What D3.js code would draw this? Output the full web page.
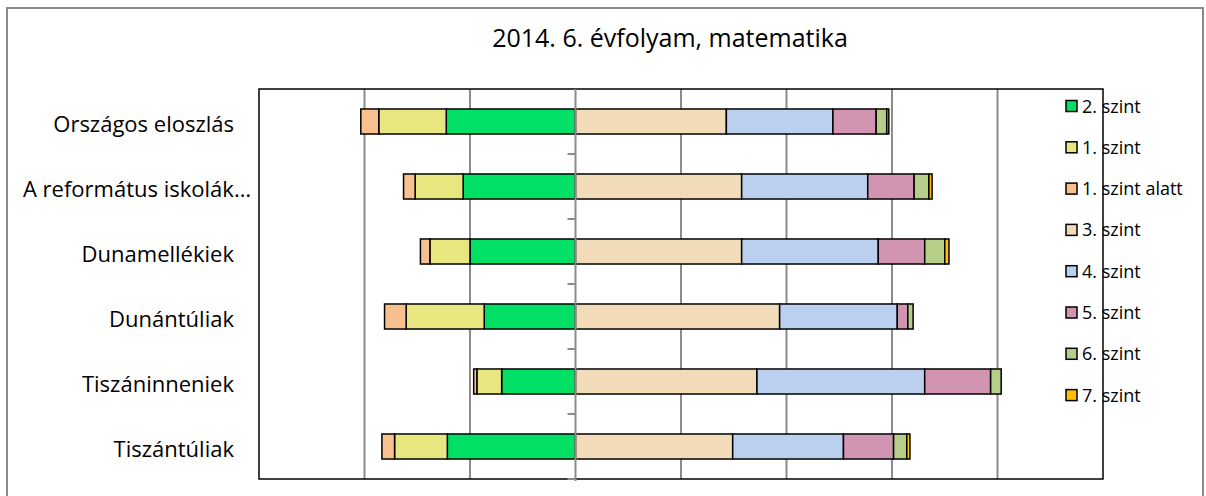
<!DOCTYPE html>
<html>
<head>
<meta charset="utf-8">
<script src="https://cdn.jsdelivr.net/npm/d3@7"></script>
<style>
  html, body { margin: 0; padding: 0; background: #fff; }
  svg { display: block; font-family: "Open Sans", "Noto Sans", sans-serif; }
</style>
</head>
<body>
<svg id="chart" width="1206" height="496"></svg>
<script>
// ---- data ----
const title = "2014. 6. évfolyam, matematika";
const categories = ["Országos eloszlás", "A református iskolák…", "Dunamellékiek", "Dunántúliak", "Tiszáninneniek", "Tiszántúliak"];
const seriesNames = ["2. szint", "1. szint", "1. szint alatt", "3. szint", "4. szint", "5. szint", "6. szint", "7. szint"];
const seriesColors = ["#00E064", "#E8E67E", "#F9C08F", "#F2DBB8", "#BAD0EE", "#D195B2", "#B5CE88", "#FFC000"];
// percentages per category
const level2 = [24.5, 21.3, 20.0, 17.3, 14.0, 24.3];
const level1 = [12.8, 9.1, 7.6, 14.8, 4.7, 10.0];
const below1 = [3.4, 2.2, 1.8, 4.1, 0.6, 2.4];
const level3 = [28.6, 31.5, 31.5, 38.7, 34.4, 29.8];
const level4 = [20.2, 23.9, 25.9, 22.3, 31.8, 21.0];
const level5 = [8.2, 8.8, 8.8, 2.0, 12.5, 9.5];
const level6 = [2.0, 2.8, 3.8, 1.0, 2.0, 2.5];
const level7 = [0.4, 0.6, 0.8, 0.0, 0.0, 0.6];
const gridTicks = [-60, -40, -20, 0, 20, 40, 60, 80, 100];

// series in legend order; left side stacks outward from 0
const seriesValues = [level2, level1, below1, level3, level4, level5, level6, level7];
const seriesSide = [-1, -1, -1, 1, 1, 1, 1, 1];

const svg = d3.select("#chart");
const plot = { left: 259, right: 1103, top: 89, bottom: 479 };

// outer frame
svg.append("rect").attr("x", 7).attr("y", 8).attr("width", 1196).attr("height", 520)
  .attr("fill", "none").attr("stroke", "#8a8a8a").attr("stroke-width", 2);

const x = d3.scaleLinear().domain([-60, 100]).range([plot.left, plot.right]);
const y = d3.scaleBand().domain(categories).range([plot.top, plot.bottom]).paddingInner(0.615).paddingOuter(0.3075);
const yb = d3.scaleBand().domain(categories).range([plot.top, plot.bottom]);

// title
svg.append("text").attr("x", 670).attr("y", 47).attr("text-anchor", "middle")
  .attr("font-size", 25).attr("fill", "#000").text(title);

// gridlines
svg.append("g").selectAll("line").data(gridTicks.filter(t => t !== 0 && t !== -60 && t !== 100)).join("line")
  .attr("x1", d => x(d)).attr("x2", d => x(d)).attr("y1", plot.top).attr("y2", plot.bottom)
  .attr("stroke", "#8c8c8c").attr("stroke-width", 2);

// stacked bars
const segs = [];
categories.forEach((c, i) => {
  let neg = 0, pos = 0;
  seriesValues.forEach((vals, s) => {
    const v = vals[i];
    if (!v) return;
    if (seriesSide[s] < 0) { segs.push({ c, s, x0: neg - v, x1: neg }); neg -= v; }
    else { segs.push({ c, s, x0: pos, x1: pos + v }); pos += v; }
  });
});
svg.append("g").selectAll("rect").data(segs).join("rect")
  .attr("x", d => x(d.x0)).attr("width", d => x(d.x1) - x(d.x0))
  .attr("y", d => y(d.c)).attr("height", y.bandwidth())
  .attr("fill", d => seriesColors[d.s]).attr("stroke", "#000").attr("stroke-width", 1.5);

// plot border
svg.append("rect").attr("x", plot.left).attr("y", plot.top)
  .attr("width", plot.right - plot.left).attr("height", plot.bottom - plot.top)
  .attr("fill", "none").attr("stroke", "#000").attr("stroke-width", 1.5);

// category axis at 0
const boundaries = categories.map(c => yb(c)).concat([plot.bottom]);
svg.append("line").attr("x1", x(0)).attr("x2", x(0)).attr("y1", plot.top).attr("y2", plot.bottom + 2)
  .attr("stroke", "#8c8c8c").attr("stroke-width", 2);
svg.append("g").selectAll("line").data(boundaries.slice(1)).join("line")
  .attr("x1", x(0) - 8).attr("x2", x(0)).attr("y1", d => d).attr("y2", d => d)
  .attr("stroke", "#8c8c8c").attr("stroke-width", 2);

// category labels
svg.append("g").selectAll("text").data(categories).join("text")
  .attr("y", d => yb(d) + yb.bandwidth() / 2 + 10)
  .attr("x", d => d.endsWith("…") ? 251 : 234)
  .attr("text-anchor", "end")
  .attr("font-size", 22).attr("fill", "#000").text(d => d);

// legend
const lg = svg.append("g").selectAll("g").data(seriesNames).join("g")
  .attr("transform", (d, i) => `translate(1066, ${106 + i * 41.3})`);
lg.append("rect").attr("x", 0).attr("y", -5.5).attr("width", 11).attr("height", 11)
  .attr("fill", (d, i) => seriesColors[i]).attr("stroke", "#000").attr("stroke-width", 1.5);
lg.append("text").attr("x", 16).attr("y", 6.5).attr("font-size", 18).attr("fill", "#000").text(d => d);
</script>
</body>
</html>
